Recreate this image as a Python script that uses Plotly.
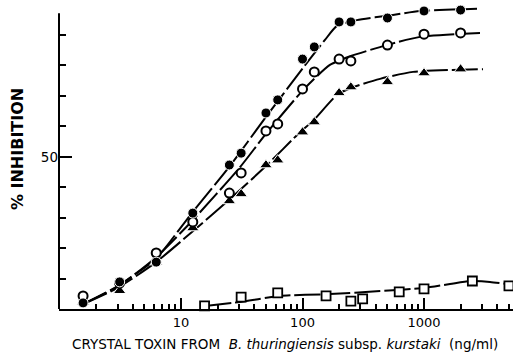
import math
import plotly.graph_objects as go

# ---- data ----
dose = [1.5625, 3.125, 6.25, 12.5, 25, 31.25, 50, 62.5, 100, 125, 200, 250, 500, 1000, 2000]
filled_y = [2.0, 8.9, 15.4, 31.5, 47.3, 51.2, 64.4, 68.7, 82.1, 86.1, 94.3, 94.3, 95.6, 97.9, 98.2]
open_y = [4.3, 8.5, 18.4, 28.6, 38.1, 44.7, 58.5, 60.8, 72.3, 77.9, 82.1, 81.5, 86.7, 90.3, 90.7]
tri_y = [2.2, 6.0, 15.4, 26.6, 35.5, 37.8, 47.3, 48.9, 58.1, 61.4, 71.0, 72.9, 74.6, 77.5, 78.8]

sq_dose = [15.625, 31.25, 62.5, 156.25, 250, 312.5, 625, 1000, 2500, 5000]
sq_y = [1.0, 3.9, 5.3, 4.3, 2.6, 3.3, 5.6, 6.6, 9.2, 7.6]

# fitted (hand-drawn) curves
filled_curve_x = [1.56, 3.03, 6.23, 12.1, 25.3, 50, 101, 153, 192, 280, 555, 927, 2730]
filled_curve_y = [1.6, 7.6, 16.6, 31.2, 47.0, 63.1, 79.2, 88.4, 93.0, 94.9, 96.6, 97.9, 98.6]
open_curve_x = [1.56, 3.03, 6.23, 12.1, 30.6, 49.2, 101, 168, 250, 494, 927, 2890]
open_curve_y = [1.6, 7.4, 17.0, 28.6, 46.6, 57.2, 71.9, 80.2, 83.1, 86.7, 89.4, 90.7]
tri_curve_x = [1.56, 3.03, 6.23, 12.3, 24.8, 51, 95.3, 122, 192, 250, 435, 812, 3060]
tri_curve_y = [1.6, 7.0, 15.4, 25.3, 35.8, 47.3, 58.1, 61.8, 70.3, 72.6, 75.6, 77.9, 78.8]
sq_curve_x = [15.8, 30.6, 65.3, 168, 435, 1000, 1637, 2390, 3490, 5400]
sq_curve_y = [1.0, 2.3, 4.3, 4.9, 5.9, 6.9, 8.2, 9.2, 8.9, 7.9]

x_ticks = [10, 100, 1000]
x_ticktext = ["10", "100", "1000"]
x_minor = [m * 10 ** e for e in range(0, 4) for m in range(2, 10) if m * 10 ** e <= 5000]
y_ticks = [50]
y_minor = [10, 20, 30, 40, 60, 70, 80, 90]
y_axis_top = 97.2

fig = go.Figure()

line_style = dict(color="black", width=2, dash="26px,4px", shape="spline", smoothing=0.6)
for cx, cy in [(filled_curve_x, filled_curve_y), (open_curve_x, open_curve_y),
               (tri_curve_x, tri_curve_y), (sq_curve_x, sq_curve_y)]:
    fig.add_trace(go.Scatter(x=cx, y=cy, mode="lines", line=line_style,
                             hoverinfo="skip", cliponaxis=False))

fig.add_trace(go.Scatter(x=dose, y=tri_y, mode="markers", cliponaxis=False,
                         marker=dict(symbol="triangle-up", size=11, color="black",
                                     line=dict(color="white", width=1))))
fig.add_trace(go.Scatter(x=dose, y=open_y, mode="markers", cliponaxis=False,
                         marker=dict(symbol="circle", size=9, color="white",
                                     line=dict(color="black", width=2))))
fig.add_trace(go.Scatter(x=dose, y=filled_y, mode="markers", cliponaxis=False,
                         marker=dict(symbol="circle", size=10, color="black",
                                     line=dict(color="white", width=1))))
fig.add_trace(go.Scatter(x=sq_dose, y=sq_y, mode="markers", cliponaxis=False,
                         marker=dict(symbol="square", size=9, color="white",
                                     line=dict(color="black", width=1.8))))

font_family = "DejaVu Sans"

fig.update_xaxes(
    type="log", range=[math.log10(0.99), math.log10(5400)],
    showline=True, linecolor="black", linewidth=2,
    showgrid=False, zeroline=False,
    tickmode="array", tickvals=x_ticks, ticktext=x_ticktext,
    ticks="inside", ticklen=11, tickwidth=1.5, tickcolor="black",
    tickfont=dict(family=font_family, size=13, color="black"),
    minor=dict(tickvals=x_minor, ticks="inside", ticklen=5, tickwidth=1.5,
               tickcolor="black", showgrid=False),
)
fig.update_yaxes(
    range=[0, 99.87],
    showline=False,
    showgrid=False, zeroline=False,
    tickmode="array", tickvals=y_ticks, ticktext=["50"],
    ticks="inside", ticklen=13, tickwidth=1.5, tickcolor="black",
    tickfont=dict(family=font_family, size=13.5, color="black"),
    minor=dict(tickvals=y_minor, ticks="inside", ticklen=7, tickwidth=1.5,
               tickcolor="black", showgrid=False),
)

# y axis line ends below the top of the plotting area, as in the reference
fig.add_shape(type="line", xref="paper", yref="y", x0=0, x1=0, y0=0, y1=y_axis_top,
              line=dict(color="black", width=2))

sp = "&nbsp;"
fig.add_annotation(
    text=f"CRYSTAL TOXIN FROM{sp} <i>B. thuringiensis</i> subsp. <i>kurstaki</i>{sp} (ng/ml)",
    xref="paper", yref="paper", x=0.4978, y=-0.1149,
    xanchor="center", yanchor="middle", showarrow=False,
    font=dict(family=font_family, size=13.5, color="black"),
)
fig.add_annotation(
    text="% INHIBITION", textangle=-90,
    xref="paper", yref="paper", x=-0.0925, y=0.526,
    xanchor="center", yanchor="middle", showarrow=False,
    font=dict(family=font_family, size=16, color="black", weight="bold"),
)

fig.update_layout(
    width=513, height=355,
    margin=dict(l=59, r=0, t=5, b=46),
    paper_bgcolor="white", plot_bgcolor="white",
    showlegend=False,
)

fig.write_html("out.html")
